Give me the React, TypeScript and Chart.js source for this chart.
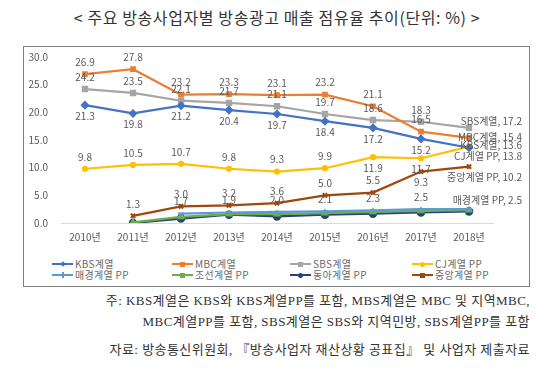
import React, { useEffect, useRef } from 'react';
import { Chart, registerables } from 'chart.js';
Chart.register(...registerables);

// ---- data ----
const years = ['2010년', '2011년', '2012년', '2013년', '2014년', '2015년', '2016년', '2017년', '2018년'];
const seriesNames = ['KBS계열', 'MBC계열', 'SBS계열', 'CJ계열 PP', '매경계열 PP', '조선계열 PP', '동아계열 PP', '중앙계열 PP'];
const kbsValues = [21.3, 19.8, 21.2, 20.4, 19.7, 18.4, 17.2, 15.2, 13.6];
const mbcValues = [26.9, 27.8, 23.2, 23.3, 23.1, 23.2, 21.1, 16.5, 15.4];
const sbsValues = [24.2, 23.5, 22.1, 21.7, 21.1, 19.7, 18.6, 18.3, 17.2];
const cjValues = [9.8, 10.5, 10.7, 9.8, 9.3, 9.9, 11.9, 11.7, 13.8];
const mkValues = [null, null, 1.7, 1.9, 2.0, 2.1, 2.3, 2.5, 2.5];
const csValues = [null, 0.1, 1.1, 1.6, 1.6, 1.8, 2.0, 2.2, 2.3];
const daValues = [null, 0.0, 0.8, 1.5, 1.2, 1.5, 1.7, 1.9, 2.1];
const jjValues = [null, 1.3, 3.0, 3.2, 3.6, 5.0, 5.5, 9.3, 10.2];
const yTicks = [0, 5, 10, 15, 20, 25, 30];

// ---- styles ----
const colors = ['#4472C4', '#ED7D31', '#A5A5A5', '#FFC000', '#5B9BD5', '#70AD47', '#264478', '#9E480E'];
const pointStyles = ['rectRot', 'rect', 'rect', 'circle', 'line', 'triangle', 'circle', 'crossRot'];
const pointRadii = [3, 2.5, 3, 2, 3, 2.5, 3.2, 3];
// label placement: a = above, b = below, e = end label, '' = none
const labelPos = [
  ['b', 'b', 'b', 'b', 'b', 'b', 'b', 'b', 'e'],
  ['a', 'a', 'a', 'a', 'a', 'a', 'a', 'a', 'e'],
  ['a', 'a', 'a', 'a', 'a', 'a', 'a', 'a', 'e'],
  ['a', 'a', 'a', 'a', 'a', 'a', 'b', 'b', 'e'],
  ['', '', 'a', 'a', 'a', 'a', 'a', 'a', 'e'],
  ['', '', '', '', '', '', '', '', ''],
  ['', '', '', '', '', '', '', '', ''],
  ['', 'a', 'a', 'a', 'a', 'a', 'a', 'b', 'e'],
];
const endDy = [-3, -1, -7, 10, -9, 0, 0, 11];
const FONT = '"Noto Sans CJK KR", "Noto Sans", sans-serif';
const SERIF = '"Liberation Serif", "Noto Sans CJK KR", serif';
const GRAY = '#595959';

const allValues = [kbsValues, mbcValues, sbsValues, cjValues, mkValues, csValues, daValues, jjValues];

const labelPlugin = {
  id: 'valueLabels',
  afterDatasetsDraw(chart: any) {
    const ctx = chart.ctx;
    ctx.save();
    ctx.font = '10px ' + FONT;
    ctx.fillStyle = GRAY;
    ctx.textBaseline = 'middle';
    chart.data.datasets.forEach((ds: any, i: number) => {
      const meta = chart.getDatasetMeta(i);
      meta.data.forEach((pt: any, j: number) => {
        const v = ds.data[j];
        if (v == null) return;
        const p = labelPos[i][j];
        if (p === 'a' || p === 'b') {
          ctx.textAlign = 'center';
          ctx.fillText(v.toFixed(1), pt.x, pt.y + (p === 'a' ? -12 : 11));
        } else if (p === 'e') {
          ctx.textAlign = 'right';
          ctx.fillText(`${seriesNames[i]}, ${v.toFixed(1)}`, chart.width - 8, pt.y + endDy[i]);
        }
      });
    });
    ctx.restore();
  },
};

function LegendItem({ idx, left, top }: { idx: number; left: number; top: number }) {
  const c = colors[idx];
  const ps = pointStyles[idx];
  let marker: any = { width: 5, height: 5, background: c };
  if (ps === 'rectRot') marker = { width: 4, height: 4, background: c, transform: 'rotate(45deg)' };
  if (ps === 'circle') marker = { width: 5, height: 5, background: c, borderRadius: '50%' };
  if (ps === 'line') marker = { width: 2, height: 6, background: c };
  if (ps === 'crossRot') marker = { width: 5, height: 5, background: c };
  return (
    <div style={{ position: 'absolute', left, top: top - 6, height: 12, display: 'flex', alignItems: 'center' }}>
      <div style={{ position: 'relative', width: 21, height: 2, background: c }}>
        <div style={{ position: 'absolute', left: 10.5 - marker.width / 2, top: 1 - marker.height / 2, ...marker }} />
      </div>
      <span style={{ marginLeft: 2, fontSize: 10, color: '#6a6a6a', fontFamily: FONT, lineHeight: '12px', whiteSpace: 'nowrap', letterSpacing: 0.3 }}>
        {seriesNames[idx]}
      </span>
    </div>
  );
}

export default function App() {
  const ref = useRef<HTMLCanvasElement>(null);
  useEffect(() => {
    if (!ref.current) return;
    const chart = new Chart(ref.current, {
      type: 'line',
      data: {
        labels: years,
        datasets: allValues.map((vals, i) => ({
          label: seriesNames[i],
          data: vals,
          borderColor: colors[i],
          backgroundColor: colors[i],
          pointBackgroundColor: colors[i],
          pointBorderColor: colors[i],
          pointStyle: pointStyles[i] as any,
          pointRadius: pointRadii[i],
          borderWidth: 2.2,
          tension: 0,
          fill: false,
          spanGaps: false,
        })),
      },
      options: {
        responsive: false,
        animation: false,
        devicePixelRatio: 1,
        layout: { padding: { left: 0, right: 37, top: 11, bottom: 0 } },
        plugins: { legend: { display: false }, tooltip: { enabled: false } },
        scales: {
          x: {
            offset: true,
            grid: { display: false, drawTicks: false },
            border: { display: true, color: '#D9D9D9', width: 1 },
            ticks: { color: GRAY, font: { size: 10, family: FONT }, padding: 8, maxRotation: 0, autoSkip: false },
            afterFit: (s: any) => { s.height = 28; },
          },
          y: {
            min: 0,
            max: 30,
            afterBuildTicks: (s: any) => { s.ticks = yTicks.map((v) => ({ value: v })); },
            grid: { display: false, drawTicks: false },
            border: { display: false },
            ticks: { color: GRAY, font: { size: 10, family: FONT }, padding: 13, callback: (v: any) => Number(v).toFixed(1) },
            afterFit: (s: any) => { s.width = 38; s.paddingTop = 0; s.paddingBottom = 0; },
          },
        },
      },
      plugins: [labelPlugin],
    });
    return () => chart.destroy();
  }, []);

  const notes = [
    '주: KBS계열은 KBS와 KBS계열PP를 포함, MBS계열은 MBC 및 지역MBC,',
    'MBC계열PP를 포함, SBS계열은 SBS와 지역민방, SBS계열PP를 포함',
  ];
  const noteStyle: any = { position: 'absolute', right: 20, fontSize: 13, lineHeight: '18px', color: '#333', fontFamily: SERIF, whiteSpace: 'nowrap', letterSpacing: 0.45 };

  return (
    <div style={{ position: 'absolute', left: 0, top: 0, width: 550, height: 377, background: '#fff', overflow: 'hidden' }}>
      <div style={{ position: 'absolute', left: 0, top: 6, width: 554, textAlign: 'center', fontSize: 16, lineHeight: '22px', color: '#333', fontFamily: FONT, letterSpacing: 0.6 }}>
        &lt; 주요 방송사업자별 방송광고 매출 점유율 추이(단위: %) &gt;
      </div>
      <div style={{ position: 'absolute', left: 23, top: 46, width: 507, height: 241, border: '1.5px solid #7F7F7F', boxSizing: 'border-box' }} />
      <canvas ref={ref} width={507} height={205} style={{ position: 'absolute', left: 23, top: 46, width: 507, height: 205 }} />
      <LegendItem idx={0} left={52} top={264} />
      <LegendItem idx={1} left={172} top={264} />
      <LegendItem idx={2} left={290} top={264} />
      <LegendItem idx={3} left={412} top={264} />
      <LegendItem idx={4} left={52} top={275} />
      <LegendItem idx={5} left={172} top={275} />
      <LegendItem idx={6} left={290} top={275} />
      <LegendItem idx={7} left={412} top={275} />
      {notes.map((t, i) => (
        <div key={i} style={{ ...noteStyle, top: 292 + i * 21 }}>
          {t}
        </div>
      ))}
      <div style={{ ...noteStyle, top: 341 }}>
        자료: 방송통신위원회, 『방송사업자 재산상황 공표집』 및 사업자 제출자료
      </div>
    </div>
  );
}
